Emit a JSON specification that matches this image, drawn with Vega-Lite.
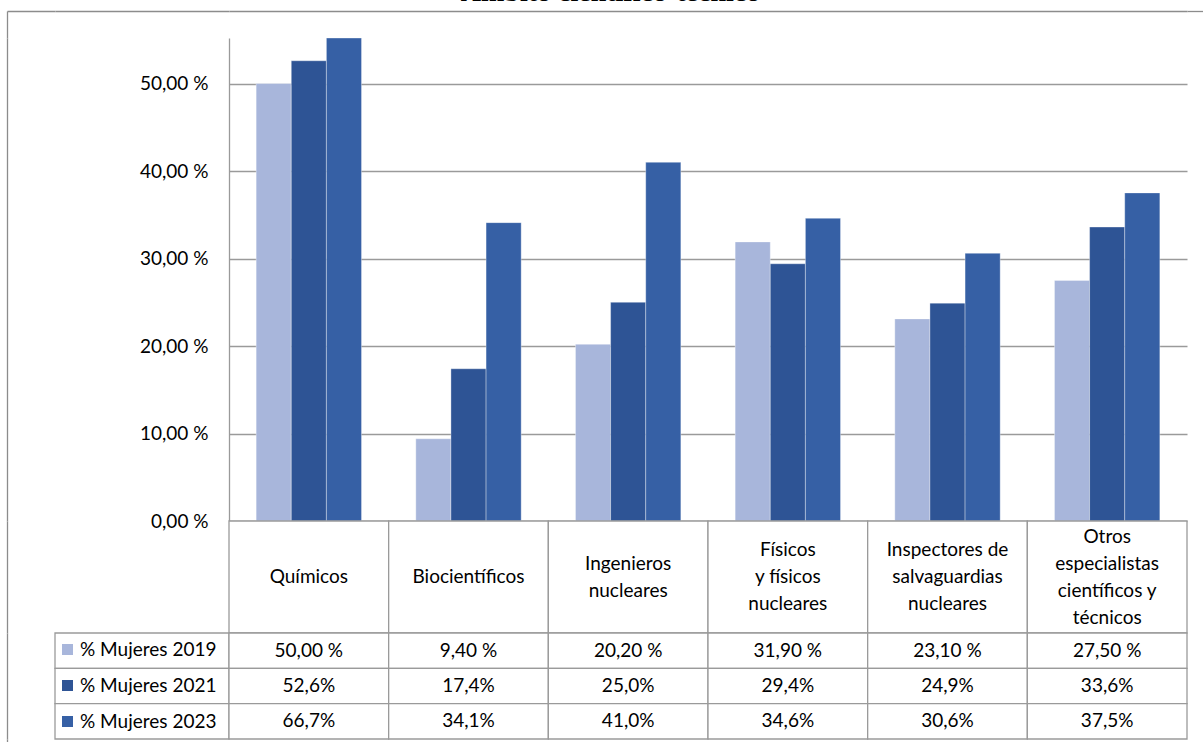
{
  "$schema": "https://vega.github.io/schema/vega-lite/v6.json",
  "background": "white",
  "padding": {"left": 6, "top": -21, "right": 0, "bottom": 0},
  "title": {
    "text": "Ámbito científico-técnico",
    "font": "Liberation Serif",
    "fontSize": 28,
    "fontWeight": "bold",
    "color": "#000000",
    "anchor": "middle",
    "dx": 5,
    "offset": 3
  },
  "config": {
    "font": "Lato",
    "view": {"stroke": null},
    "axis": {"labelFont": "Lato", "labelColor": "#000000"}
  },
  "datasets": {
    "puestos": [
      {"categoria": "Químicos", "anio": "2019", "valor": 50.0},
      {"categoria": "Químicos", "anio": "2021", "valor": 52.6},
      {"categoria": "Químicos", "anio": "2023", "valor": 66.7},
      {"categoria": "Biocientíficos", "anio": "2019", "valor": 9.4},
      {"categoria": "Biocientíficos", "anio": "2021", "valor": 17.4},
      {"categoria": "Biocientíficos", "anio": "2023", "valor": 34.1},
      {"categoria": "Ingenieros\nnucleares", "anio": "2019", "valor": 20.2},
      {"categoria": "Ingenieros\nnucleares", "anio": "2021", "valor": 25.0},
      {"categoria": "Ingenieros\nnucleares", "anio": "2023", "valor": 41.0},
      {"categoria": "Físicos\ny físicos\nnucleares", "anio": "2019", "valor": 31.9},
      {"categoria": "Físicos\ny físicos\nnucleares", "anio": "2021", "valor": 29.4},
      {"categoria": "Físicos\ny físicos\nnucleares", "anio": "2023", "valor": 34.6},
      {"categoria": "Inspectores de\nsalvaguardias\nnucleares", "anio": "2019", "valor": 23.1},
      {"categoria": "Inspectores de\nsalvaguardias\nnucleares", "anio": "2021", "valor": 24.9},
      {"categoria": "Inspectores de\nsalvaguardias\nnucleares", "anio": "2023", "valor": 30.6},
      {"categoria": "Otros\nespecialistas\ncientíficos y\ntécnicos", "anio": "2019", "valor": 27.5},
      {"categoria": "Otros\nespecialistas\ncientíficos y\ntécnicos", "anio": "2021", "valor": 33.6},
      {"categoria": "Otros\nespecialistas\ncientíficos y\ntécnicos", "anio": "2023", "valor": 37.5}
    ]
  },
  "columns": 2,
  "align": "each",
  "bounds": "flush",
  "spacing": 0,
  "concat": [
    {
      "width": 174,
      "height": 27,
      "data": {"values": [{}]},
      "mark": "text",
      "encoding": {
        "text": {"value": ""},
        "x": {
          "datum": 0.5,
          "type": "quantitative",
          "scale": {"domain": [0, 1]},
          "axis": {"orient": "top", "domain": true, "domainColor": "#8c8c8c", "domainWidth": 1.3, "ticks": false, "labels": false, "grid": false, "title": null}
        },
        "y": {
          "datum": 0.5,
          "type": "quantitative",
          "scale": {"domain": [0, 1]},
          "axis": {"orient": "left", "offset": 48, "domain": true, "domainColor": "#8c8c8c", "domainWidth": 1.3, "values": [1], "ticks": true, "tickSize": -48, "tickColor": "#8c8c8c", "tickWidth": 1.3, "labels": false, "grid": false, "title": null}
        }
      }
    },
    {
      "width": 958,
      "height": 27,
      "data": {"values": [{}]},
      "mark": "text",
      "encoding": {
        "text": {"value": ""},
        "x": {
          "datum": 0.5,
          "type": "quantitative",
          "scale": {"domain": [0, 1]},
          "axis": {"orient": "top", "domain": true, "domainColor": "#8c8c8c", "domainWidth": 1.3, "ticks": false, "labels": false, "grid": false, "title": null}
        },
        "y": {
          "datum": 0.5,
          "type": "quantitative",
          "scale": {"domain": [0, 1]},
          "axis": {"orient": "right", "domain": false, "values": [1], "ticks": true, "tickSize": 17, "tickColor": "#8c8c8c", "tickWidth": 1.3, "labels": false, "grid": false, "title": null}
        }
      }
    },
    {
      "width": 174,
      "height": 483,
      "data": {"values": [{}]},
      "mark": "text",
      "encoding": {
        "text": {"value": ""},
        "y": {
          "datum": 0.5,
          "type": "quantitative",
          "scale": {"domain": [0, 1]},
          "axis": {"orient": "left", "offset": 48, "domain": true, "domainColor": "#8c8c8c", "domainWidth": 1.3, "ticks": false, "labels": false, "grid": false, "title": null}
        }
      }
    },
    {
      "width": 958,
      "height": 483,
      "data": {"name": "puestos"},
      "mark": {"type": "bar", "stroke": "#ffffff", "strokeOpacity": 0.35, "strokeWidth": 1},
      "encoding": {
        "x": {
          "field": "categoria",
          "type": "nominal",
          "sort": null,
          "axis": null,
          "scale": {"paddingInner": 0.34, "paddingOuter": 0.17}
        },
        "xOffset": {
          "field": "anio",
          "type": "nominal",
          "scale": {"paddingInner": 0, "paddingOuter": 0}
        },
        "y": {
          "field": "valor",
          "type": "quantitative",
          "scale": {"domain": [0, 55.2], "clamp": true, "nice": false},
          "axis": {
            "title": null,
            "values": [0, 10, 20, 30, 40, 50],
            "labelExpr": "replace(format(datum.value, '.2f'), '.', ',') + ' %'",
            "labelFontSize": 19,
            "labelPadding": 21,
            "ticks": false,
            "grid": true,
            "gridColor": "#9a9a9a",
            "gridWidth": 1.3,
            "domainColor": "#9a9a9a",
            "domainWidth": 1.3
          }
        },
        "color": {
          "field": "anio",
          "type": "nominal",
          "scale": {"domain": ["2019", "2021", "2023"], "range": ["#a8b6db", "#2e5495", "#3660a5"]},
          "legend": {
            "orient": "none",
            "legendX": 3,
            "legendY": 629,
            "title": null,
            "padding": 0,
            "symbolType": "square",
            "symbolSize": 121,
            "symbolStrokeWidth": 0,
            "labelFont": "Lato",
            "labelFontSize": 19,
            "labelColor": "#000000",
            "labelOffset": 3,
            "rowPadding": 16,
            "labelExpr": "'% Mujeres ' + datum.label"
          }
        }
      }
    },
    {
      "width": 174,
      "height": 112,
      "data": {"values": [{}]},
      "mark": "text",
      "encoding": {
        "text": {"value": ""},
        "y": {
          "datum": 0.5,
          "type": "quantitative",
          "scale": {"domain": [0, 1]},
          "axis": {"orient": "left", "offset": 48, "domain": true, "domainColor": "#8c8c8c", "domainWidth": 1.3, "ticks": false, "labels": false, "grid": false, "title": null}
        }
      }
    },
    {
      "width": 958,
      "height": 112,
      "data": {"name": "puestos"},
      "transform": [{"filter": "datum.anio === '2019'"}],
      "encoding": {
        "x": {
          "field": "categoria",
          "type": "nominal",
          "sort": null,
          "axis": null,
          "scale": {"paddingInner": 0, "paddingOuter": 0}
        }
      },
      "layer": [
        {"mark": {"type": "rect", "fill": "#ffffff", "stroke": "#9a9a9a", "strokeWidth": 1.3}},
        {
          "mark": {
            "type": "text",
            "fontSize": 19,
            "lineBreak": "\n",
            "lineHeight": 27,
            "baseline": "middle",
            "color": "#000000",
            "dy": {"expr": "-13.5 * (length(split(datum.categoria, '\\n')) - 1)"}
          },
          "encoding": {"text": {"field": "categoria"}}
        }
      ]
    },
    {
      "width": 174,
      "height": 106,
      "data": {"name": "puestos"},
      "transform": [{"filter": "datum.categoria === 'Químicos'"}],
      "mark": {"type": "rect", "fill": "#ffffff", "stroke": "#9a9a9a", "strokeWidth": 1.3},
      "encoding": {
        "y": {
          "field": "anio",
          "type": "nominal",
          "scale": {"paddingInner": 0, "paddingOuter": 0},
          "axis": {"orient": "left", "offset": 48, "domain": true, "domainColor": "#8c8c8c", "domainWidth": 1.3, "ticks": false, "labels": false, "grid": false, "title": null}
        }
      }
    },
    {
      "width": 958,
      "height": 106,
      "data": {"name": "puestos"},
      "transform": [
        {
          "calculate": "datum.anio === '2019' ? replace(format(datum.valor, '.2f'), '.', ',') + ' %' : replace(format(datum.valor, '.1f'), '.', ',') + '%'",
          "as": "etiqueta"
        }
      ],
      "encoding": {
        "x": {
          "field": "categoria",
          "type": "nominal",
          "sort": null,
          "axis": null,
          "scale": {"paddingInner": 0, "paddingOuter": 0}
        },
        "y": {
          "field": "anio",
          "type": "nominal",
          "axis": null,
          "scale": {"paddingInner": 0, "paddingOuter": 0}
        }
      },
      "layer": [
        {"mark": {"type": "rect", "fill": "#ffffff", "stroke": "#9a9a9a", "strokeWidth": 1.3}},
        {
          "mark": {"type": "text", "fontSize": 19, "baseline": "middle", "color": "#000000"},
          "encoding": {"text": {"field": "etiqueta"}}
        }
      ]
    },
    {
      "width": 174,
      "height": 8,
      "data": {"values": [{}]},
      "mark": "text",
      "encoding": {
        "text": {"value": ""},
        "y": {
          "datum": 0.5,
          "type": "quantitative",
          "scale": {"domain": [0, 1]},
          "axis": {"orient": "left", "offset": 48, "domain": true, "domainColor": "#8c8c8c", "domainWidth": 1.3, "ticks": false, "labels": false, "grid": false, "title": null}
        }
      }
    },
    {
      "width": 958,
      "height": 8,
      "data": {"values": [{}]},
      "mark": "text",
      "encoding": {"text": {"value": ""}}
    }
  ]
}
